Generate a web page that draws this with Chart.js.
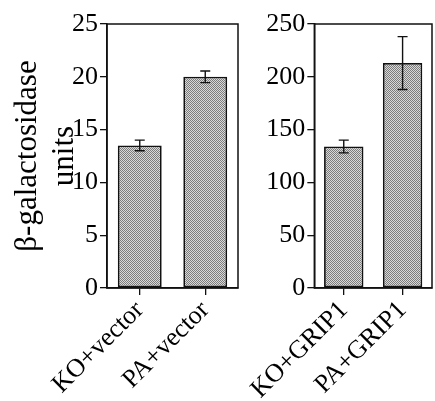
<!DOCTYPE html>
<html>
<head>
<meta charset="utf-8">
<script src="https://cdn.jsdelivr.net/npm/chart.js@4"></script>
<style>
  html, body { margin: 0; padding: 0; background: #fff; }
  #wrap { position: relative; width: 435px; height: 401px; }
  .box { position: absolute; top: 0; height: 401px; }
</style>
</head>
<body>
<div id="wrap">
  <div class="box" style="left:0;width:240px"><canvas id="left"></canvas></div>
  <div class="box" style="left:240px;width:195px"><canvas id="right"></canvas></div>
</div>
<script>
// data
const leftLabels = ["KO+vector", "PA+vector"];
const leftValues = [13.5, 20.0];
const leftErrors = [0.5, 0.55];
const leftTicks = [0, 5, 10, 15, 20, 25];

const rightLabels = ["KO+GRIP1", "PA+GRIP1"];
const rightValues = [134, 213];
const rightErrors = [6, 25];
const rightTicks = [0, 50, 100, 150, 200, 250];

const yTitle = ["\u03B2-galactosidase", "units"];
const serif = "'Liberation Serif', 'DejaVu Serif', serif";

// stippled grey fill like the printed figure (checker of dots)
function stipple() {
  const c = document.createElement("canvas");
  c.width = 2; c.height = 2;
  const g = c.getContext("2d");
  g.fillStyle = "#d9d9d9";
  g.fillRect(0, 0, 2, 2);
  g.fillStyle = "#7c7c7c";
  g.fillRect(0, 0, 1, 1);
  g.fillRect(1, 1, 1, 1);
  return g.createPattern(c, "repeat");
}

// frame round the plot area
const framePlugin = {
  id: "frame",
  afterDraw(chart) {
    const { ctx, chartArea: a } = chart;
    ctx.save();
    ctx.strokeStyle = "#111";
    ctx.lineWidth = 1.5;
    ctx.strokeRect(a.left, a.top, a.right - a.left, a.bottom - a.top);
    ctx.restore();
  },
};

// error bars drawn from the error arrays through the y scale
const errorPlugin = {
  id: "errbars",
  afterDatasetsDraw(chart, args, opts) {
    const { ctx } = chart;
    const yScale = chart.scales.y;
    const meta = chart.getDatasetMeta(0);
    const vals = chart.data.datasets[0].data;
    ctx.save();
    ctx.strokeStyle = "#111";
    ctx.lineWidth = 1.4;
    meta.data.forEach((bar, i) => {
      const hi = yScale.getPixelForValue(vals[i] + opts.errors[i]);
      const lo = yScale.getPixelForValue(vals[i] - opts.errors[i]);
      const x = bar.x;
      ctx.beginPath();
      ctx.moveTo(x, hi); ctx.lineTo(x, lo);
      ctx.moveTo(x - 5, hi); ctx.lineTo(x + 5, hi);
      ctx.moveTo(x - 5, lo); ctx.lineTo(x + 5, lo);
      ctx.stroke();
    });
    ctx.restore();
  },
};

function makeChart(id, labels, values, errors, ticks, yWidth, padRight, withTitle) {
  const ctx = document.getElementById(id).getContext("2d");
  return new Chart(ctx, {
    type: "bar",
    data: {
      labels: labels,
      datasets: [{
        data: values,
        backgroundColor: stipple(),
        borderColor: "#111",
        borderWidth: 1.8,
        borderSkipped: false,
        categoryPercentage: 1.0,
        barPercentage: 0.67,
      }],
    },
    options: {
      responsive: true,
      maintainAspectRatio: false,
      animation: false,
      layout: { padding: { top: 24, right: padRight, bottom: 0, left: 0 } },
      plugins: {
        legend: { display: false },
        tooltip: { enabled: false },
        errbars: { errors: errors },
      },
      scales: {
        x: {
          grid: { offset: false, drawOnChartArea: false, tickLength: 7, color: "#111", lineWidth: 1.3 },
          border: { color: "#111", width: 1.5 },
          ticks: {
            color: "#000",
            font: { family: serif, size: 26 },
            minRotation: 45,
            maxRotation: 45,
            padding: 0,
          },
          afterFit(scale) { scale.height = 113; },
        },
        y: {
          min: 0,
          max: ticks[ticks.length - 1],
          afterBuildTicks(scale) { scale.ticks = ticks.map(v => ({ value: v })); },
          grid: { drawOnChartArea: false, tickLength: 7, color: "#111", lineWidth: 1.3 },
          border: { color: "#111", width: 1.5 },
          ticks: {
            color: "#000",
            font: { family: serif, size: 26 },
            padding: 2,
          },
          title: {
            display: withTitle,
            text: yTitle,
            color: "#000",
            font: { family: serif, size: 31, lineHeight: 1.2 },
            padding: { top: 9, bottom: 0 },
          },
          afterFit(scale) { scale.width = yWidth; },
        },
      },
    },
    plugins: [framePlugin, errorPlugin],
  });
}

makeChart("left", leftLabels, leftValues, leftErrors, leftTicks, 107, 2, true);
makeChart("right", rightLabels, rightValues, rightErrors, rightTicks, 63, 3, false);
</script>
</body>
</html>
